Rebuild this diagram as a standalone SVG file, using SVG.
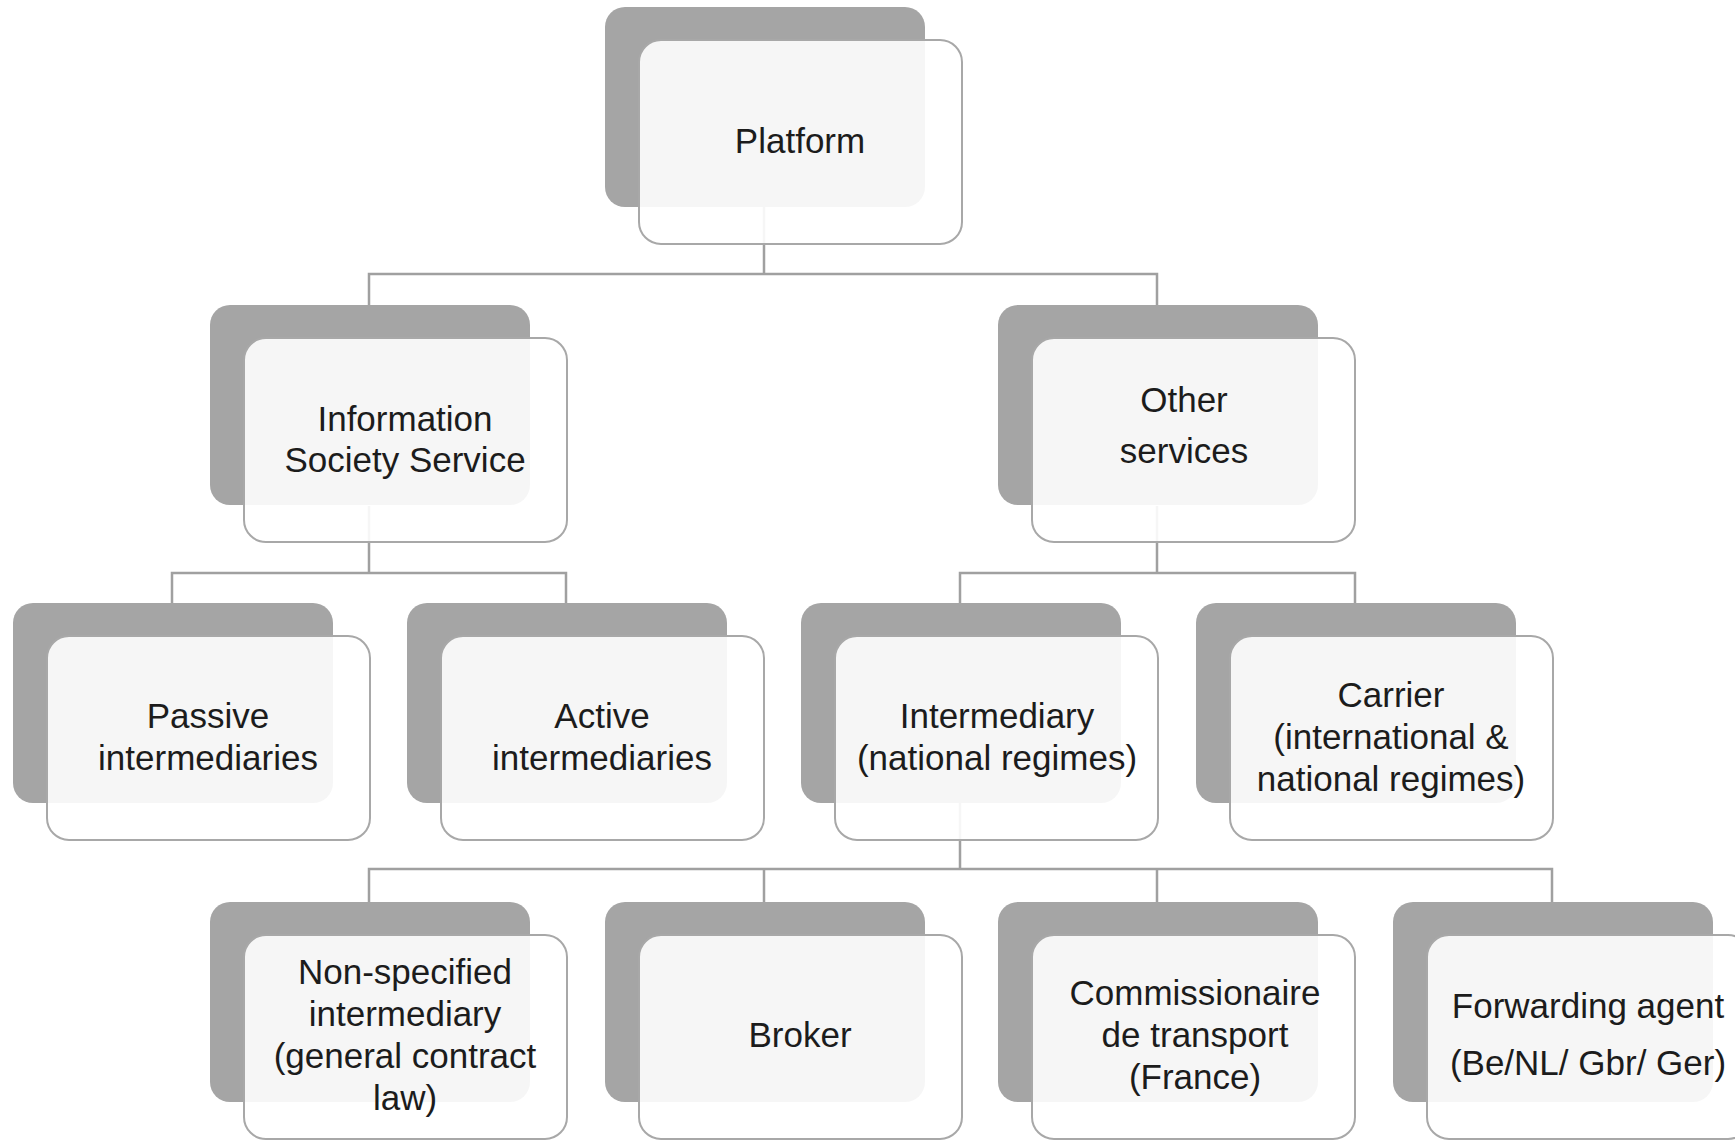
<svg xmlns="http://www.w3.org/2000/svg" width="1735" height="1141" viewBox="0 0 1735 1141">
  <style>
    .back { fill: #a5a5a5; }
    .front { fill: #ffffff; fill-opacity: 0.9; stroke: #a8a8a8; stroke-width: 2; }
    .conn { fill: none; stroke: #a0a0a0; stroke-width: 2.5; }
    .lbl { font-family: "Liberation Sans", Arial, sans-serif; font-size: 35px; fill: #1c1c1c; text-anchor: middle; }
  </style>
  <defs>
    <rect id="backCard" class="back" x="0" y="0" width="320" height="200" rx="20" ry="20"/>
    <rect id="frontCard" class="front" x="34" y="33" width="323" height="204" rx="22" ry="22"/>
  </defs>
  <rect width="1735" height="1141" fill="#ffffff"/>

  <!-- tree connectors -->
  <g id="connectors">
    <path class="conn" d="M764,207 V274 M369,305 V274 H1157 V305"/>
    <path class="conn" d="M369,506 V573 M172,603 V573 H566 V603"/>
    <path class="conn" d="M1157,506 V573 M960,603 V573 H1355 V603"/>
    <path class="conn" d="M960,803 V869 M369,902 V869 H1552 V902 M764,869 V902 M1157,869 V902"/>
  </g>

  <g id="platform" transform="translate(605,7)">
    <use href="#backCard"/><use href="#frontCard"/>
    <text class="lbl" x="195" y="146">Platform</text>
  </g>

  <g id="information-society-service" transform="translate(210,305)">
    <use href="#backCard"/><use href="#frontCard"/>
    <text class="lbl" x="195" y="126">Information</text>
    <text class="lbl" x="195" y="167">Society Service</text>
  </g>

  <g id="other-services" transform="translate(998,305)">
    <use href="#backCard"/><use href="#frontCard" style="fill-opacity:0.86"/>
    <text class="lbl" x="186" y="107">Other</text>
    <text class="lbl" x="186" y="158">services</text>
  </g>

  <g id="passive-intermediaries" transform="translate(13,603)">
    <use href="#backCard"/><use href="#frontCard"/>
    <text class="lbl" x="195" y="125">Passive</text>
    <text class="lbl" x="195" y="167">intermediaries</text>
  </g>

  <g id="active-intermediaries" transform="translate(407,603)">
    <use href="#backCard"/><use href="#frontCard"/>
    <text class="lbl" x="195" y="125">Active</text>
    <text class="lbl" x="195" y="167">intermediaries</text>
  </g>

  <g id="intermediary" transform="translate(801,603)">
    <use href="#backCard"/><use href="#frontCard"/>
    <text class="lbl" x="196" y="125">Intermediary</text>
    <text class="lbl" x="196" y="167">(national regimes)</text>
  </g>

  <g id="carrier" transform="translate(1196,603)">
    <use href="#backCard"/><use href="#frontCard"/>
    <text class="lbl" x="195" y="104">Carrier</text>
    <text class="lbl" x="195" y="146">(international &amp;</text>
    <text class="lbl" x="195" y="188">national regimes)</text>
  </g>

  <g id="non-specified-intermediary" transform="translate(210,902)">
    <use href="#backCard"/><use href="#frontCard"/>
    <text class="lbl" x="195" y="82">Non-specified</text>
    <text class="lbl" x="195" y="124">intermediary</text>
    <text class="lbl" x="195" y="166">(general contract</text>
    <text class="lbl" x="195" y="208">law)</text>
  </g>

  <g id="broker" transform="translate(605,902)">
    <use href="#backCard"/><use href="#frontCard"/>
    <text class="lbl" x="195" y="145">Broker</text>
  </g>

  <g id="commissionaire-de-transport" transform="translate(998,902)">
    <use href="#backCard"/><use href="#frontCard"/>
    <text class="lbl" x="197" y="103">Commissionaire</text>
    <text class="lbl" x="197" y="145">de transport</text>
    <text class="lbl" x="197" y="187">(France)</text>
  </g>

  <g id="forwarding-agent" transform="translate(1393,902)">
    <use href="#backCard"/><use href="#frontCard"/>
    <text class="lbl" x="195" y="116">Forwarding agent</text>
    <text class="lbl" x="195" y="173">(Be/NL/ Gbr/ Ger)</text>
  </g>
</svg>
